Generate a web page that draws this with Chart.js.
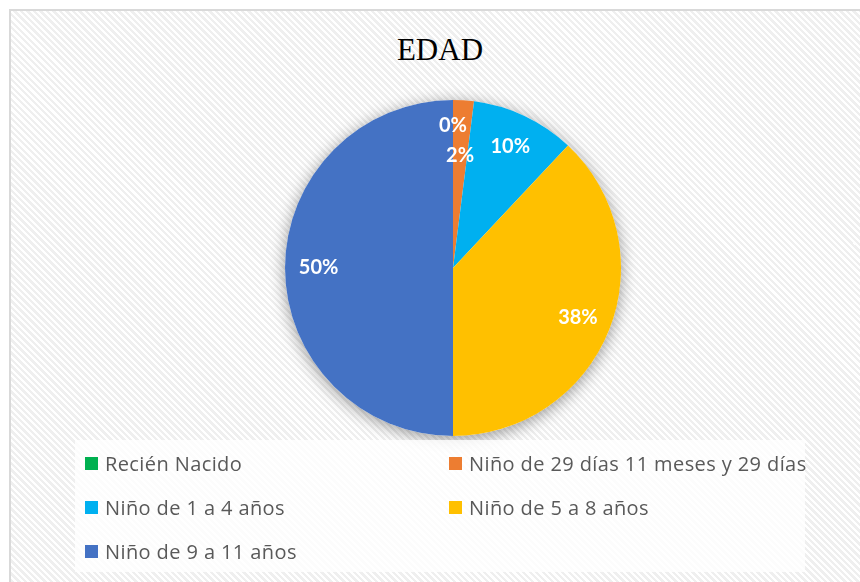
<!DOCTYPE html>
<html>
<head>
<meta charset="utf-8">
<script src="https://cdn.jsdelivr.net/npm/chart.js@4"></script>
<style>
    html, body { margin: 0; padding: 0; background: #ffffff; width: 860px; height: 582px; overflow: hidden; }
    #frame {
        position: absolute; left: 9px; top: 9px; width: 870px; height: 600px;
        border-left: 2px solid #d9d9d9; border-top: 2px solid #d9d9d9;
        background: repeating-linear-gradient(45deg, #ffffff 0px, #ffffff 2.2px, #efefef 2.2px, #efefef 4.6px);
    }
    #title {
        position: absolute; left: 340px; top: 30px; width: 200px; text-align: center;
        font-family: "Liberation Serif", serif; font-size: 31px; color: #000000; line-height: 40px;
    }
    #chartBox { position: absolute; left: 255px; top: 70px; width: 396px; height: 396px; }
    #legend {
        position: absolute; left: 75px; top: 440px; width: 730px; height: 132px;
        background: rgba(255, 255, 255, 0.8);
    }
    .item {
        position: absolute; display: flex; align-items: center;
        font-family: "Open Sans", sans-serif; font-size: 20px; letter-spacing: 0.4px;
        color: #595959; white-space: nowrap;
    }
    .swatch { width: 13px; height: 13px; margin-right: 7px; }
</style>
</head>
<body>
<div id="frame"></div>
<div id="title">EDAD</div>
<div id="chartBox"><canvas id="edadChart" width="396" height="396"></canvas></div>
<div id="legend"></div>
<script>
    const categories = [
        "Recién Nacido",
        "Niño de 29 días 11 meses y 29 días",
        "Niño de 1 a 4 años",
        "Niño de 5 a 8 años",
        "Niño de 9 a 11 años"
    ];
    const percentages = [0, 2, 10, 38, 50];
    const sliceColors = ["#00b050", "#ed7d31", "#00b0f0", "#ffc000", "#4472c4"];

    // legend in two columns like the original
    const legend = document.getElementById("legend");
    categories.forEach((name, i) => {
        const item = document.createElement("div");
        item.className = "item";
        item.style.left = (i % 2 === 0 ? 10 : 374) + "px";
        item.style.top = (23 + Math.floor(i / 2) * 44 - 13) + "px";
        item.style.height = "26px";
        const sw = document.createElement("span");
        sw.className = "swatch";
        sw.style.background = sliceColors[i];
        const txt = document.createElement("span");
        txt.textContent = name;
        item.appendChild(sw);
        item.appendChild(txt);
        legend.appendChild(item);
    });

    // soft shadow behind the pie
    const pieShadow = {
        id: "pieShadow",
        beforeDatasetsDraw(chart) {
            const arc = chart.getDatasetMeta(0).data[0];
            if (!arc) return;
            const ctx = chart.ctx;
            ctx.save();
            ctx.shadowColor = "rgba(0, 0, 0, 0.4)";
            ctx.shadowBlur = 16;
            ctx.shadowOffsetY = 3;
            ctx.fillStyle = "#ffffff";
            ctx.beginPath();
            ctx.arc(arc.x, arc.y, arc.outerRadius, 0, Math.PI * 2);
            ctx.fill();
            ctx.restore();
        }
    };

    // percentage labels inside slices
    const sliceLabels = {
        id: "sliceLabels",
        afterDatasetsDraw(chart) {
            const ctx = chart.ctx;
            const meta = chart.getDatasetMeta(0);
            const placed = [];
            ctx.save();
            ctx.font = "bold 20px Lato, sans-serif";
            ctx.fillStyle = "#ffffff";
            ctx.textAlign = "center";
            ctx.textBaseline = "middle";
            meta.data.forEach((arc, i) => {
                const text = percentages[i] + "%";
                const mid = (arc.startAngle + arc.endAngle) / 2;
                const w = ctx.measureText(text).width;
                const h = 30;
                let r = arc.outerRadius * (percentages[i] < 1 ? 0.85 : 0.8);
                let x, y;
                for (let k = 0; k < 40; k++) {
                    x = arc.x + Math.cos(mid) * r;
                    y = arc.y + Math.sin(mid) * r;
                    const hit = placed.some(p => Math.abs(p.x - x) < (p.w + w) / 2 && Math.abs(p.y - y) < h);
                    if (!hit) break;
                    r -= 2;
                }
                placed.push({ x, y, w });
                ctx.fillText(text, x, y);
            });
            ctx.restore();
        }
    };

    new Chart(document.getElementById("edadChart"), {
        type: "pie",
        data: {
            labels: categories,
            datasets: [{
                data: percentages,
                backgroundColor: sliceColors,
                borderWidth: 0
            }]
        },
        options: {
            responsive: false,
            animation: false,
            layout: { padding: 30 },
            plugins: {
                legend: { display: false },
                tooltip: { enabled: false },
                title: { display: false }
            }
        },
        plugins: [pieShadow, sliceLabels]
    });
</script>
</body>
</html>
